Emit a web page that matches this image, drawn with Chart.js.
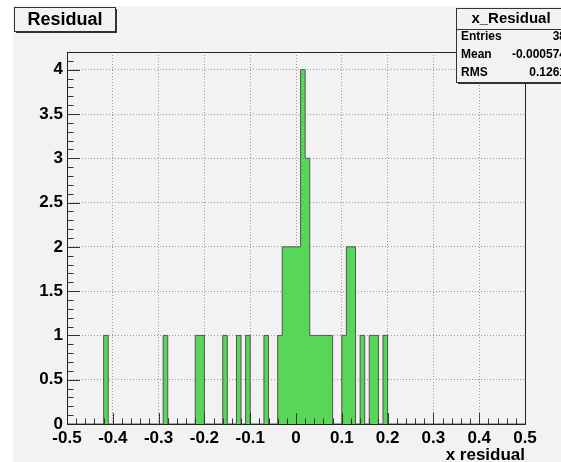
<!DOCTYPE html>
<html><head><meta charset="utf-8">
<script src="https://cdn.jsdelivr.net/npm/chart.js@4/dist/chart.umd.min.js"></script>
<style>html,body{margin:0;padding:0;background:#fff;overflow:hidden}canvas{display:block}</style>
</head><body>
<canvas id="c" width="561" height="462"></canvas>
<script>
// ---- data (100 bins from -0.5 to 0.5) ----
const xMin = -0.5;
const xMax = 0.5;
const binWidth = 0.01;
const counts = [
  0,0,0,0,0,0,0,0,1,0,
  0,0,0,0,0,0,0,0,0,0,
  0,1,0,0,0,0,0,0,1,1,
  0,0,0,0,1,0,0,1,0,1,
  0,0,0,1,0,0,1,2,2,2,
  2,4,3,1,1,1,1,1,0,0,
  1,2,2,0,1,0,1,1,0,1,
  0,0,0,0,0,0,0,0,0,0,
  0,0,0,0,0,0,0,0,0,0,
  0,0,0,0,0,0,0,0,0,0
];
const xTickLabels = [-0.5,-0.4,-0.3,-0.2,-0.1,0,0.1,0.2,0.3,0.4,0.5];
const yTickLabels = [0,0.5,1,1.5,2,2.5,3,3.5,4];
const yMax = 4.2;
const histTitle = 'Residual';
const statsTitle = 'x_Residual';
const statsLabels = ['Entries','Mean','RMS'];
const statsValues = ['38','-0.000574','0.1261'];
const xAxisTitle = 'x residual';

const FONT = '"Liberation Sans", Arial, Helvetica, sans-serif';
const BG = '#f2f2f2';

const histPoints = counts.map((c, i) => ({x: xMin + i * binWidth, y: c}));
histPoints.push({x: xMax, y: 0});

const decor = {
  id: 'decor',
  beforeDraw(chart) {
    const ctx = chart.ctx;
    ctx.save();
    ctx.fillStyle = '#ffffff';
    ctx.fillRect(0, 0, chart.width, chart.height);
    ctx.fillStyle = BG;
    ctx.fillRect(13, 6, chart.width - 13, chart.height - 6);
    ctx.restore();
  },
  afterDatasetsDraw(chart) {
    const ctx = chart.ctx;
    const a = chart.chartArea;
    const xs = chart.scales.x, ys = chart.scales.y;
    ctx.save();
    ctx.strokeStyle = '#333';
    ctx.lineWidth = 1;
    // minor/major ticks inside frame
    ctx.beginPath();
    for (let k = 0; k <= 50; k++) {
      const v = xMin + k * 0.02;
      const px = Math.round(xs.getPixelForValue(v)) + 0.5;
      const len = (k % 5 === 0) ? 11 : 5.5;
      ctx.moveTo(px, a.bottom);
      ctx.lineTo(px, a.bottom - len);
    }
    for (let k = 0; k <= 42; k++) {
      const v = k * 0.1;
      const py = Math.round(ys.getPixelForValue(v)) + 0.5;
      const len = (k % 5 === 0) ? 13 : 6.5;
      ctx.moveTo(a.left, py);
      ctx.lineTo(a.left + len, py);
    }
    ctx.stroke();
    // frame
    ctx.strokeStyle = '#222';
    ctx.strokeRect(Math.round(a.left) + 0.5, Math.round(a.top) + 0.5,
                   Math.round(a.right - a.left), Math.round(a.bottom - a.top));
    ctx.restore();
  },
  afterDraw(chart) {
    const ctx = chart.ctx;
    ctx.save();
    // title box
    ctx.fillStyle = BG;
    ctx.fillRect(14, 7, 102, 25);
    ctx.strokeStyle = '#333';
    ctx.lineWidth = 1;
    ctx.strokeRect(14.5, 7.5, 101, 24);
    ctx.beginPath();
    ctx.moveTo(16, 32.5); ctx.lineTo(117, 32.5);
    ctx.moveTo(116.5, 9); ctx.lineTo(116.5, 33);
    ctx.stroke();
    ctx.fillStyle = '#000';
    ctx.font = 'bold 18px ' + FONT;
    ctx.textAlign = 'center';
    ctx.textBaseline = 'middle';
    ctx.fillText(histTitle, 65, 20);

    // stats box
    ctx.fillStyle = BG;
    ctx.fillRect(456, 8, 115, 75);
    ctx.strokeStyle = '#333';
    ctx.strokeRect(456.5, 8.5, 112, 74);
    ctx.beginPath();
    ctx.moveTo(458, 83.5); ctx.lineTo(570, 83.5);
    ctx.moveTo(456, 29.5); ctx.lineTo(570, 29.5);
    ctx.stroke();
    ctx.fillStyle = '#000';
    ctx.font = 'bold 15px ' + FONT;
    ctx.textAlign = 'center';
    ctx.fillText(statsTitle, 511, 18.5);
    ctx.font = 'bold 12px ' + FONT;
    const rowY = [37, 55, 73];
    statsLabels.forEach((lab, i) => {
      ctx.textAlign = 'left';
      ctx.fillText(lab, 461, rowY[i]);
      ctx.textAlign = 'right';
      ctx.fillText(statsValues[i], 566, rowY[i]);
    });

    // x axis title
    ctx.font = 'bold 17px ' + FONT;
    ctx.textAlign = 'right';
    ctx.fillText(xAxisTitle, chart.chartArea.right, 455);
    ctx.restore();
  }
};

new Chart(document.getElementById('c'), {
  type: 'line',
  data: {
    datasets: [{
      data: histPoints,
      stepped: 'before',
      fill: 'origin',
      backgroundColor: '#57d657',
      borderColor: '#555',
      borderWidth: 1,
      pointRadius: 0,
      tension: 0
    }]
  },
  options: {
    responsive: false,
    animation: false,
    devicePixelRatio: 1,
    layout: {padding: {top: 52, right: 36, left: 0, bottom: 0}},
    plugins: {legend: {display: false}, tooltip: {enabled: false}, title: {display: false}},
    scales: {
      x: {
        type: 'linear', min: xMin, max: xMax,
        afterBuildTicks(s) { s.ticks = xTickLabels.map(v => ({value: v})); },
        afterFit(s) { s.height = 38; },
        grid: {color: '#999', lineWidth: 1, drawTicks: false, tickLength: 0},
        border: {display: false, dash: [1, 2]},
        ticks: {
          color: '#000', font: {family: FONT, size: 17, weight: 'bold'},
          padding: 4, maxRotation: 0, autoSkip: false,
          callback: v => String(Math.round(v * 10) / 10)
        }
      },
      y: {
        type: 'linear', min: 0, max: yMax,
        afterBuildTicks(s) { s.ticks = yTickLabels.map(v => ({value: v})); },
        afterFit(s) { s.width = 67; },
        grid: {color: '#999', lineWidth: 1, drawTicks: false, tickLength: 0},
        border: {display: false, dash: [1, 2]},
        ticks: {
          color: '#000', font: {family: FONT, size: 17, weight: 'bold'},
          padding: 4, autoSkip: false,
          callback: v => String(v)
        }
      }
    }
  },
  plugins: [decor]
});
</script>
</body></html>
